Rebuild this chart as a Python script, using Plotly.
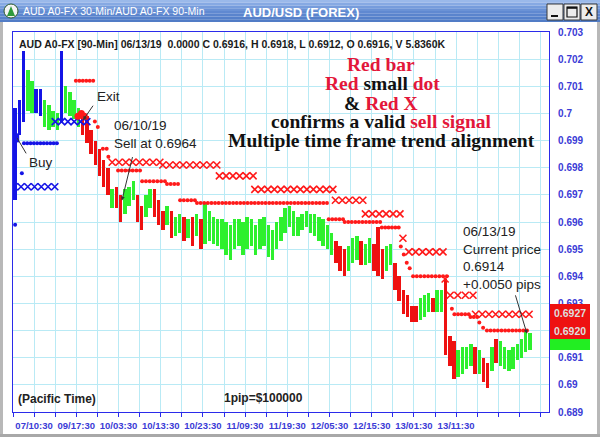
import numpy as np
import plotly.graph_objects as go

# ---------------- data ----------------
highs = [0.7002, 0.7005, 0.7023, 0.7016, 0.7012, 0.7009, 0.7009, 0.7005, 0.7003, 0.7001,
         0.7000, 0.7023, 0.7010, 0.7008, 0.7005, 0.7002, 0.7000, 0.6999, 0.6994, 0.6990,
         0.6987, 0.6983, 0.6980, 0.6972, 0.6973, 0.6970, 0.6972, 0.6973, 0.6975, 0.6970,
         0.6966, 0.6970, 0.6972, 0.6972, 0.6968, 0.6964, 0.6966, 0.6964, 0.6962, 0.6963,
         0.6962, 0.6961, 0.6962, 0.6963, 0.6961, 0.6967, 0.6964, 0.6962, 0.6961, 0.6961,
         0.6960, 0.6959, 0.6961, 0.6961, 0.6960, 0.6962, 0.6961, 0.6959, 0.6961, 0.6962,
         0.6959, 0.6957, 0.6960, 0.6962, 0.6965, 0.6966, 0.6964, 0.6962, 0.6963, 0.6964,
         0.6963, 0.6963, 0.6962, 0.6961, 0.6959, 0.6956, 0.6953, 0.6951, 0.6950, 0.6951,
         0.6954, 0.6955, 0.6953, 0.6952, 0.6954, 0.6952, 0.6958, 0.6950, 0.6951, 0.6952,
         0.6945, 0.6940, 0.6935, 0.6933, 0.6929, 0.6929, 0.6932, 0.6933, 0.6934, 0.6932,
         0.6935, 0.6935, 0.6939, 0.6918, 0.6916, 0.6913, 0.6914, 0.6914, 0.6915, 0.6914,
         0.6913, 0.6910, 0.6908, 0.6914, 0.6917, 0.6916, 0.6914, 0.6913, 0.6914, 0.6915,
         0.6917, 0.6920, 0.6919]
lows = [0.6968, 0.6992, 0.6997, 0.7001, 0.7000, 0.7000, 0.6999, 0.6995, 0.6994, 0.6995,
        0.6994, 0.6997, 0.7000, 0.6999, 0.6998, 0.6995, 0.6992, 0.6989, 0.6985, 0.6981,
        0.6977, 0.6973, 0.6970, 0.6965, 0.6965, 0.6960, 0.6963, 0.6966, 0.6968, 0.6960,
        0.6957, 0.6962, 0.6965, 0.6962, 0.6959, 0.6957, 0.6959, 0.6954, 0.6955, 0.6956,
        0.6953, 0.6954, 0.6951, 0.6955, 0.6950, 0.6952, 0.6953, 0.6952, 0.6951, 0.6950,
        0.6948, 0.6946, 0.6950, 0.6951, 0.6948, 0.6950, 0.6951, 0.6948, 0.6950, 0.6951,
        0.6947, 0.6946, 0.6950, 0.6953, 0.6956, 0.6958, 0.6955, 0.6955, 0.6957, 0.6958,
        0.6956, 0.6955, 0.6953, 0.6951, 0.6950, 0.6948, 0.6945, 0.6942, 0.6940, 0.6942,
        0.6945, 0.6946, 0.6944, 0.6944, 0.6945, 0.6942, 0.6940, 0.6939, 0.6942, 0.6944,
        0.6935, 0.6931, 0.6926, 0.6925, 0.6923, 0.6923, 0.6924, 0.6925, 0.6927, 0.6927,
        0.6927, 0.6927, 0.6911, 0.6907, 0.6902, 0.6903, 0.6904, 0.6906, 0.6907, 0.6904,
        0.6904, 0.6901, 0.6899, 0.6905, 0.6908, 0.6907, 0.6906, 0.6905, 0.6906, 0.6909,
        0.6910, 0.6912, 0.6913]
# B = blue (buy trend), G = green (up), R = red (down); one code per bar
bar_codes = list("BBBGGBBGGG" "GBGGGGRRRR" "RRRGRRGGGR" "RGGRRRGRGG" "RGRGRGGGGG"
                 "GGGGGGGGGG" "GGGGGGGGGG" "GGGGGGRRRG" "GGRGGRRRGG" "RRRRRRGGGR"
                 "GGRRRGGGGR" "GRRGRGGGGG" "GGG")

# stop levels: (first bar, last bar, price)
red_dot_levels = [(14.9, 19.0, 0.7012), (19.4, 19.4, 0.6997), (20.1, 20.1, 0.6995),
                  (21.3, 22.2, 0.6987), (22.6, 22.6, 0.6984), (24.9, 30.1, 0.6979),
                  (30.6, 36.0, 0.6975), (36.5, 39.1, 0.6974), (39.6, 43.1, 0.6968),
                  (43.6, 74.4, 0.6967), (74.8, 78.2, 0.6961), (78.6, 87.0, 0.6960),
                  (87.4, 91.4, 0.6958), (91.9, 91.9, 0.6951), (92.6, 92.6, 0.6948),
                  (93.3, 93.3, 0.6945), (94.0, 94.0, 0.6943), (94.8, 102.8, 0.6940),
                  (104.0, 104.0, 0.6928), (104.6, 108.0, 0.6926), (108.4, 110.0, 0.6925),
                  (110.5, 110.5, 0.6923), (111.4, 111.4, 0.6921), (112.3, 121.8, 0.6920)]
red_x_levels = [(23.5, 34.8, 0.6982), (35.5, 48.3, 0.6981), (48.9, 56.9, 0.6977),
                (57.3, 75.8, 0.6972), (76.4, 82.9, 0.6968), (83.5, 91.7, 0.6963),
                (92.4, 92.4, 0.6954), (93.8, 101.9, 0.6949), (102.4, 102.4, 0.6939),
                (103.6, 109.0, 0.6933), (109.6, 122.3, 0.6926)]
blue_x_levels = [(0.3, 9.9, 0.6973), (10.0, 17.5, 0.6997)]
blue_dot_levels = [(2.6, 10.4, 0.6989), (2.1, 2.1, 0.6978), (0.5, 0.5, 0.6959)]
buy_mark = ([0.4], [0.6991])
exit_mark = ([15.4, 16.2, 16.9], [0.6999, 0.7000, 0.6999])

tick_vals = [5, 15, 25, 35, 45, 55, 65, 75, 85, 95, 105]
tick_labels = ["07/10:30", "09/17:30", "10/03:30", "10/13:30", "10/23:30", "11/09:30",
               "11/19:30", "12/05:30", "12/15:30", "13/01:30", "13/11:30"]

# ---------------- styling ----------------
W, H = 600, 437
PL, PR, PT, PB = 13, 549, 32, 412
AX_BLUE = "#2b2bea"
LBL_BLUE = "#3b3bd6"
GRID = "#b9eaf5"
RED_TXT = "#e3173a"
SANS = "Liberation Sans"
SERIF = "Liberation Serif"
cmap = {"B": "#1414e6", "G": "#2ef02e", "R": "#ee1111"}


def px(x):
    return (x - PL) / (PR - PL)


def py(y):
    return (PB - y) / (PB - PT)


def expand(levels, step):
    xs, ys = [], []
    for x0, x1, p in levels:
        n = max(1, int(round((x1 - x0) / step)) + 1)
        pts = np.linspace(x0, x1, n) if n > 1 else [x0]
        xs.extend(pts)
        ys.extend([p] * len(pts))
    return xs, ys


fig = go.Figure()
bar_x = [i + 0.5 for i in range(len(highs))]
fig.add_trace(go.Bar(x=bar_x, y=[h - l for h, l in zip(highs, lows)], base=lows,
                     width=0.82, marker=dict(color=[cmap[c] for c in bar_codes], line_width=0),
                     hoverinfo="skip"))

rx, ry = expand(red_dot_levels, 0.85)
fig.add_trace(go.Scatter(x=rx, y=ry, mode="markers",
                         marker=dict(symbol="circle", size=4, color="#ff1a1a", line_width=0)))
xx, xy = expand(red_x_levels, 1.6)
fig.add_trace(go.Scatter(x=xx, y=xy, mode="markers",
                         marker=dict(symbol="x-thin", size=7, line=dict(width=1.6, color="#ff1a1a"))))
bx, by = expand(blue_x_levels, 1.6)
fig.add_trace(go.Scatter(x=bx, y=by, mode="markers",
                         marker=dict(symbol="x-thin", size=7, line=dict(width=1.6, color="#1414e6"))))
bdx, bdy = expand(blue_dot_levels, 0.8)
fig.add_trace(go.Scatter(x=bdx, y=bdy, mode="markers",
                         marker=dict(symbol="circle", size=4, color="#1414e6", line_width=0)))
fig.add_trace(go.Scatter(x=buy_mark[0], y=buy_mark[1], mode="markers",
                         marker=dict(symbol="square", size=9, color="#1414e6", line_width=0)))
fig.add_trace(go.Scatter(x=exit_mark[0], y=exit_mark[1], mode="markers",
                         marker=dict(symbol="circle", size=7, color="#ff1a1a", line_width=0)))

shapes = []
# window title bar (vertical gradient approximation)
grad = ["#9ab9ea", "#86a9e3", "#769cdc", "#6a92d6", "#6089d1", "#5a84cd", "#5580ca", "#517cc6"]
for k, col in enumerate(grad):
    y0 = k * 22 / len(grad)
    y1 = (k + 1) * 22 / len(grad)
    shapes.append(dict(type="rect", xref="paper", yref="paper", x0=px(0), x1=px(W),
                       y0=py(y1), y1=py(y0), fillcolor=col, line_width=0, layer="above"))
# window frame
for (x0, x1, y0, y1, c) in [(0, 3, 22, H, "#b8b8b8"), (597, 600, 22, H, "#b8b8b8"),
                            (0, 600, 434, 437, "#a8a8a8")]:
    shapes.append(dict(type="rect", xref="paper", yref="paper", x0=px(x0), x1=px(x1),
                       y0=py(y1), y1=py(y0), fillcolor=c, line_width=0))
# window buttons
for (x0, x1) in [(547, 563), (564, 580), (581, 597)]:
    shapes.append(dict(type="rect", xref="paper", yref="paper", x0=px(x0), x1=px(x1),
                       y0=py(20), y1=py(4), fillcolor="#ececec",
                       line=dict(color="#3a3a3a", width=1), layer="above"))
shapes.append(dict(type="line", xref="paper", yref="paper", x0=px(551), x1=px(558),
                   y0=py(16), y1=py(16), line=dict(color="#111", width=2), layer="above"))
shapes.append(dict(type="rect", xref="paper", yref="paper", x0=px(567), x1=px(577),
                   y0=py(17), y1=py(7), line=dict(color="#111", width=1.2), layer="above"))
shapes.append(dict(type="line", xref="paper", yref="paper", x0=px(567), x1=px(577),
                   y0=py(7.8), y1=py(7.8), line=dict(color="#111", width=2), layer="above"))
# icon
shapes.append(dict(type="circle", xref="paper", yref="paper", x0=px(4), x1=px(18),
                   y0=py(18), y1=py(4), fillcolor="#f4f4f4", line=dict(color="#2d5a2d", width=1),
                   layer="above"))
shapes.append(dict(type="path", xref="paper", yref="paper",
                   path=f"M {px(7)},{py(16)} L {px(11)},{py(6)} L {px(15)},{py(16)} Z",
                   fillcolor="#2f9a3c", line_width=0, layer="above"))
# price boxes at right
shapes.append(dict(type="rect", xref="paper", yref="paper", x0=px(550), x1=px(590),
                   y0=py(350), y1=py(339), fillcolor="#22ee22", line_width=0, layer="above"))
shapes.append(dict(type="rect", xref="paper", yref="paper", x0=px(550), x1=px(590),
                   y0=py(339), y1=py(304), fillcolor="#ee1111", line_width=0, layer="above"))

ann = []


def txt(text, x, y, size, color="#222222", family=SANS, xanchor="left"):
    ann.append(dict(text=text, xref="paper", yref="paper", x=px(x), y=py(y), showarrow=False,
                    xanchor=xanchor, yanchor="middle", font=dict(size=size, color=color, family=family)))


def red(s):
    return f"<span style='color:{RED_TXT}'>{s}</span>"


txt("AUD A0-FX 30-Min/AUD A0-FX 90-Min", 21, 11, 10.5, "white", SANS)
txt("<b>AUD/USD (FOREX)</b>", 301, 12, 13, "white", SANS, "center")
txt("<b>X</b>", 589, 12, 12, "#111", SANS, "center")
txt("<b>AUD A0-FX [90-Min] 06/13/19  0.0000 C 0.6916, H 0.6918, L 0.6912, O 0.6916, V 5.8360K</b>",
    17, 44, 10.5, "#1a1a1a")
txt(f"<b>{red('Red bar')}</b>", 381, 64, 19.5, family=SERIF, xanchor="center")
txt(f"<b>{red('Red')} small {red('dot')}</b>", 382, 83, 19.5, "#111", SERIF, "center")
txt(f"<b>&amp; {red('Red X')}</b>", 381, 103, 19.5, "#111", SERIF, "center")
txt(f"<b>confirms a valid {red('sell signal')}</b>", 381, 122, 19.5, "#111", SERIF, "center")
txt("<b>Multiple time frame trend alignment</b>", 381, 140, 19.5, "#111", SERIF, "center")
txt("Exit", 95, 97, 13.5)
txt("06/10/19", 112, 125, 13.5)
txt("Sell at 0.6964", 112, 143, 13.5)
txt("Buy", 27, 163, 13.5)
txt("06/13/19", 461, 231, 13.5)
txt("Current price", 461, 249, 13.5)
txt("0.6914", 461, 266, 13.5)
txt("+0.0050 pips", 461, 284, 13.5)
txt("<b>(Pacific Time)</b>", 16, 399, 12)
txt("<b>1pip=$100000</b>", 222, 398, 12)
txt("<b>0.6927</b>", 570, 313, 10.5, "#dddddd", SANS, "center")
txt("<b>0.6920</b>", 570, 331, 10.5, "#dddddd", SANS, "center")

# arrows (tip in data coordinates, tail offset in pixels)
for (tx, ty, ax, ay, head) in [(16.6, 0.69975, 11, -16, 2), (25.8, 0.69679, 11, -45, 2),
                               (0.95, 0.6991, 10, 17, 0), (121.8, 0.69188, -12, -40, 2)]:
    ann.append(dict(x=tx, y=ty, xref="x", yref="y", ax=ax, ay=ay, text="", showarrow=True,
                    arrowhead=head, arrowsize=0.8, arrowwidth=1, arrowcolor="#333333"))

fig.update_layout(
    width=W, height=H, margin=dict(l=PL, r=W - PR, t=PT, b=H - PB, autoexpand=False),
    paper_bgcolor="white", plot_bgcolor="white", showlegend=False,
    shapes=shapes, annotations=ann, bargap=0,
    xaxis=dict(range=[0, (PR - PL) / 4.22], tickmode="array", tickvals=tick_vals,
               ticktext=tick_labels, ticks="outside", ticklen=4, tickcolor=AX_BLUE,
               showline=True, linecolor=AX_BLUE, linewidth=1.2, mirror=True,
               showgrid=True, gridcolor=GRID, gridwidth=1, zeroline=False,
               tickfont=dict(family=SANS, size=9.5, color=LBL_BLUE, weight="bold"),
               minor=dict(tickmode="linear", tick0=0, dtick=5, ticks="outside", ticklen=4,
                          tickcolor=AX_BLUE, showgrid=True, gridcolor=GRID, gridwidth=1),
               fixedrange=True, automargin=False),
    yaxis=dict(range=[0.689, 0.703], dtick=0.001, tick0=0.689, side="right",
               showline=True, linecolor=AX_BLUE, linewidth=1.2, mirror=True,
               showgrid=True, gridcolor=GRID, gridwidth=1, zeroline=False, ticks="",
               ticklabelstandoff=6,
               tickfont=dict(family=SANS, size=10, color=LBL_BLUE, weight="bold"),
               fixedrange=True, automargin=False),
)

fig.write_html("out.html", config={"displayModeBar": False},
               post_script="document.body.style.margin='0px';")
